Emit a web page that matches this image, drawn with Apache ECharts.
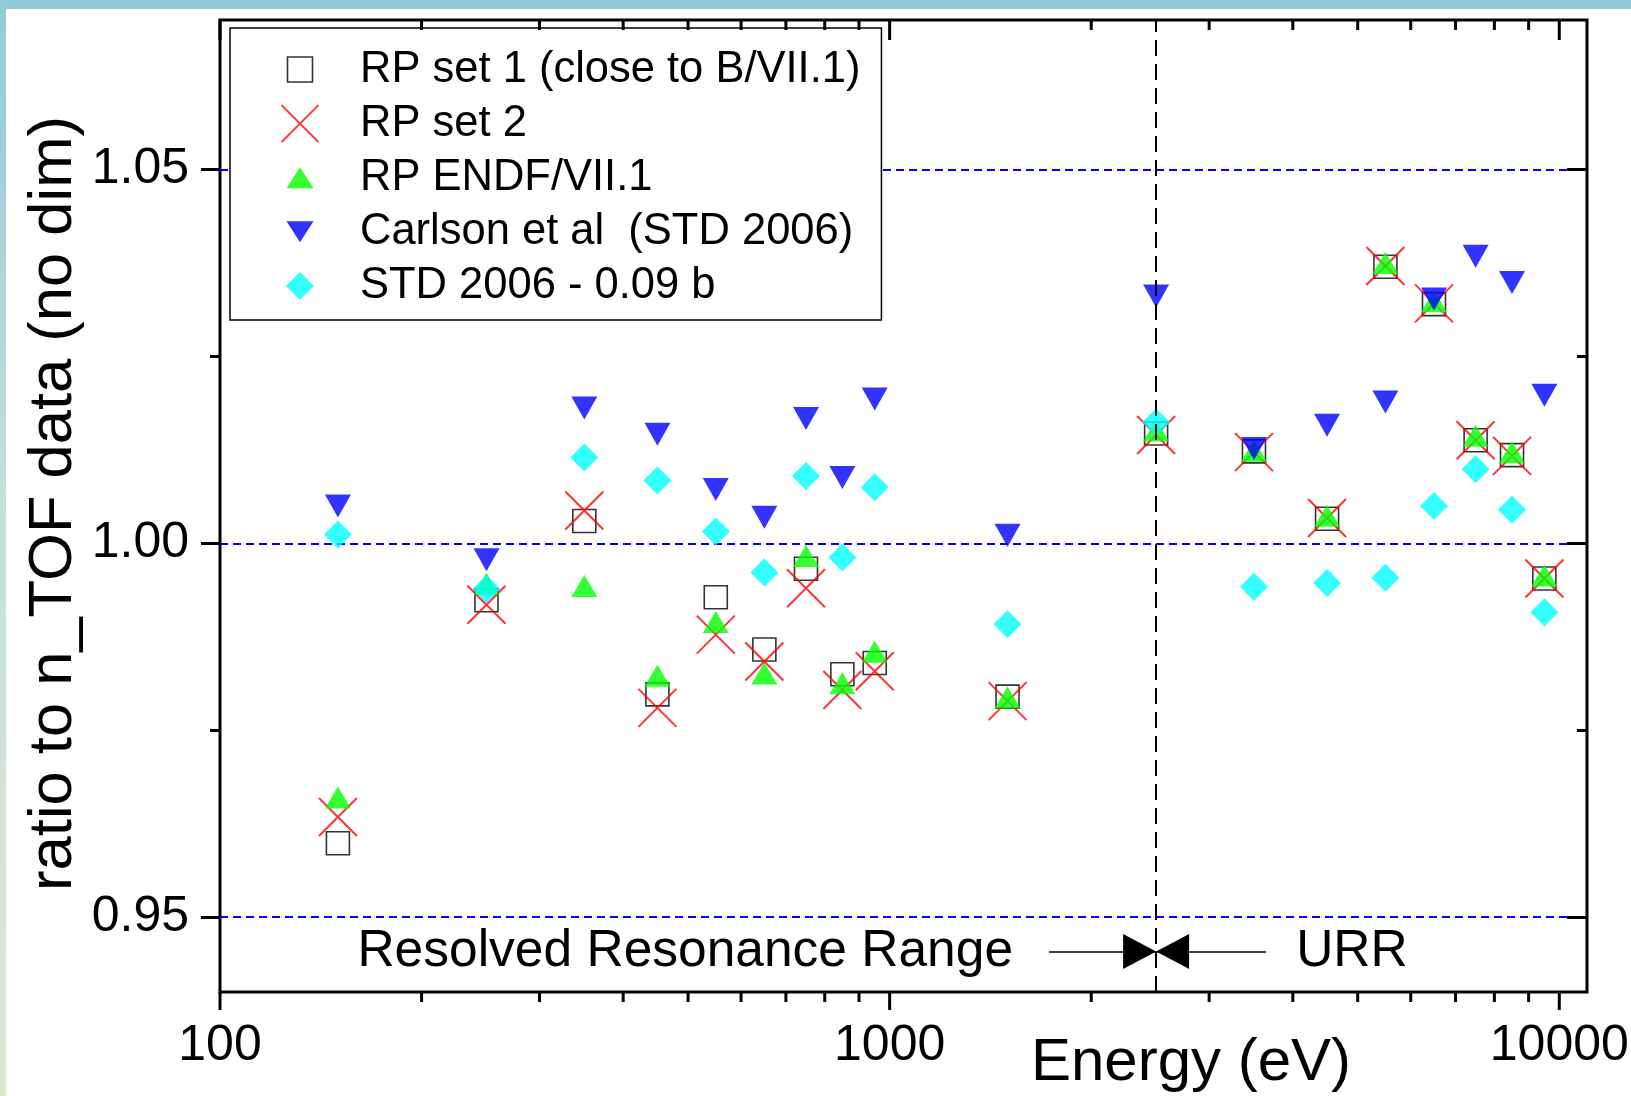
<!DOCTYPE html>
<html>
<head>
<meta charset="utf-8">
<script src="https://cdn.jsdelivr.net/npm/echarts@6/dist/echarts.min.js"></script>
<style>
html, body { margin: 0; padding: 0; background: #ffffff; }
#band { position: absolute; left: 0; top: 0; width: 1631px; height: 9px; background: #92c9d7; }
#strip { position: absolute; left: 0; top: 0; width: 6px; height: 1096px; background: linear-gradient(#92c9d7, #c4dfdc 45%, #dde9cf); }
#chart { position: absolute; left: 0; top: 0; width: 1631px; height: 1096px; }
</style>
</head>
<body>
<div id="band"></div>
<div id="strip"></div>
<div id="chart"></div>
<script>
// ---- data ----
const energy = [150, 250, 350, 450, 550, 650, 750, 850, 950, 1500, 2500, 3500, 4500, 5500, 6500, 7500, 8500, 9500];
const rpSet1  = [0.9599, 0.9924, 1.0030, 0.9798, 0.9928, 0.9858, 0.9966, 0.9825, 0.9840, 0.9795, 1.0147, 1.0123, 1.0033, 1.0370, 1.0320, 1.0138, 1.0118, 0.9953];
const rpSet2  = [0.9634, 0.9918, 1.0044, 0.9780, 0.9878, 0.9842, 0.9940, 0.9804, 0.9829, 0.9789, 1.0145, 1.0122, 1.0034, 1.0371, 1.0321, 1.0138, 1.0117, 0.9953];
const rpEndf  = [0.9660, 0.9946, 0.9943, 0.9823, 0.9895, 0.9826, 0.9983, 0.9813, 0.9855, 0.9794, 1.0151, 1.0124, 1.0037, 1.0375, 1.0324, 1.0144, 1.0122, 0.9957];
const carlson = [1.0050, 0.9978, 1.0181, 1.0146, 1.0072, 1.0035, 1.0167, 1.0088, 1.0193, 1.0011, 1.0331, 1.0127, 1.0158, 1.0189, 1.0327, 1.0384, 1.0349, 1.0198];
const std2006 = [1.0012, 0.9939, 1.0115, 1.0084, 1.0016, 0.9961, 1.0090, 0.9981, 1.0075, 0.9892, 1.0162, 0.9942, 0.9947, 0.9954, 1.0050, 1.0099, 1.0045, 0.9908];

const seriesNames = ['RP set 1 (close to B/VII.1)', 'RP set 2', 'RP ENDF/VII.1', 'Carlson et al  (STD 2006)', 'STD 2006 - 0.09 b'];

const xMajorTicks = [100, 1000, 10000];
const xMinorTicks = [200, 300, 400, 500, 600, 700, 800, 900, 2000, 3000, 4000, 5000, 6000, 7000, 8000, 9000];
const yMajorTicks = [0.95, 1.00, 1.05];
const yMinorTicks = [0.975, 1.025];

const X_MIN = 100, X_MAX = 11000, Y_MIN = 0.94, Y_MAX = 1.07;
const URR_BOUNDARY = 2500;
const ARROW_Y = 0.9454;
const RRR_ARROW_START = 1730;
const URR_ARROW_START = 3650;

// ---- styles ----
const FONT = '"Liberation Sans", Arial, Helvetica, sans-serif';
const X_PATH = 'path://M0,0L10,10M10,0L0,10';
const INV_TRI_PATH = 'path://M0,0L10,0L5,10Z';

const pairs = ys => energy.map((e, i) => [e, ys[i]]);
const tickData = xMajorTicks.map(v => [v, Y_MIN, 1]).concat(xMinorTicks.map(v => [v, Y_MIN, 0]));

function renderXTicks(params, api) {
  const v = api.value(0);
  const major = api.value(2) === 1;
  const b = api.coord([v, Y_MIN]);
  const t = api.coord([v, Y_MAX]);
  const lb = major ? 18 : 10;
  const lt = major ? 20 : 10;
  return {
    type: 'group',
    children: [
      { type: 'line', shape: { x1: b[0], y1: b[1], x2: b[0], y2: b[1] + lb }, style: { stroke: '#000', lineWidth: 3 } },
      { type: 'line', shape: { x1: t[0], y1: t[1], x2: t[0], y2: t[1] + lt }, style: { stroke: '#000', lineWidth: 3 } }
    ]
  };
}

function yAxisBase(position) {
  return {
    type: 'value', position: position, min: Y_MIN, max: Y_MAX,
    axisLine: { show: false },
    splitLine: { show: false },
    axisLabel: { show: false },
    nameMoveOverlap: false
  };
}

const arrowLabel = (text, dist) => ({
  show: true, position: 'start', formatter: text, distance: dist,
  fontSize: 51.5, color: '#000', fontFamily: FONT, padding: [5, 0, 0, 0]
});

const chart = echarts.init(document.getElementById('chart'), null, { renderer: 'canvas' });

const option = {
  animation: false,
  backgroundColor: 'transparent',
  textStyle: { fontFamily: FONT },
  grid: {
    left: 220, top: 20, width: 1367, height: 972,
    show: true, borderColor: '#000', borderWidth: 3, backgroundColor: 'transparent',
    outerBoundsMode: 'none', containLabel: false
  },
  legend: {
    orient: 'vertical', left: 230, top: 28,
    padding: [19.5, 21, 12, 50.5],
    itemWidth: 110, itemHeight: 37, itemGap: 10.1,
    backgroundColor: '#ffffff', borderColor: '#000', borderWidth: 1.5, borderRadius: 0,
    selectedMode: false,
    textStyle: { fontSize: 43.5, color: '#000', fontFamily: FONT },
    data: [
      { name: seriesNames[0], icon: 'path://M-2.4,-2.4M12.4,12.4M0,0L10,0L10,10L0,10Z',
        itemStyle: { color: 'rgba(0,0,0,0)', borderColor: '#000', borderWidth: 1.6 } },
      { name: seriesNames[1], icon: X_PATH,
        itemStyle: { color: 'rgba(0,0,0,0)', borderColor: '#ff0000', borderWidth: 2 } },
      { name: seriesNames[2], icon: 'path://M-1.85,-2.96M11.85,10.74M0,7.78L5,0L10,7.78Z',
        itemStyle: { color: '#00ff00', borderWidth: 0 } },
      { name: seriesNames[3], icon: 'path://M-1.85,-2.96M11.85,10.74M0,0L10,0L5,7.78Z',
        itemStyle: { color: '#0000ff', borderWidth: 0 } },
      { name: seriesNames[4], icon: 'path://M-1.6,-1.6M11.6,11.6M5,0L10,5L5,10L0,5Z',
        itemStyle: { color: '#00ffff', borderWidth: 0 } }
    ]
  },
  xAxis: [{
    type: 'log', logBase: 10, min: X_MIN, max: X_MAX, position: 'bottom',
    axisLine: { show: false },
    axisTick: { show: false },
    minorTick: { show: false },
    splitLine: { show: false },
    axisLabel: {
      fontSize: 50, color: '#000', fontFamily: FONT, margin: 29,
      formatter: function (v) {
        const hit = xMajorTicks.find(t => Math.abs(t - v) / t < 1e-6);
        return hit ? String(hit) : '';
      }
    },
    name: 'Energy (eV)', nameLocation: 'middle', nameGap: 41, nameMoveOverlap: false,
    nameTextStyle: { fontSize: 60, color: '#000', fontFamily: FONT, padding: [0, 0, 0, 575] }
  }],
  yAxis: [
    Object.assign(yAxisBase('left'), {
      axisTick: { show: true, inside: false, length: 19, customValues: yMajorTicks, lineStyle: { color: '#000', width: 3 } },
      axisLabel: {
        show: true, customValues: yMajorTicks, fontSize: 50, color: '#000', fontFamily: FONT, margin: 31,
        formatter: v => Number(v).toFixed(2)
      },
      splitLine: { show: true, lineStyle: { color: '#0000ff', width: 2, type: [8, 5] } },
      name: 'ratio to n_TOF data (no dim)', nameLocation: 'middle', nameGap: 135, nameRotate: 90,
      nameTextStyle: { fontSize: 61.5, color: '#000', fontFamily: FONT, padding: [0, 0, 0, 5] }
    }),
    Object.assign(yAxisBase('left'), {
      axisTick: { show: true, inside: false, length: 10, customValues: yMinorTicks, lineStyle: { color: '#000', width: 3 } }
    }),
    Object.assign(yAxisBase('right'), {
      axisTick: { show: true, inside: true, length: 20, customValues: yMajorTicks, lineStyle: { color: '#000', width: 3 } }
    }),
    Object.assign(yAxisBase('right'), {
      axisTick: { show: true, inside: true, length: 10, customValues: yMinorTicks, lineStyle: { color: '#000', width: 3 } }
    })
  ],
  series: [
    {
      name: seriesNames[0], type: 'scatter', data: pairs(rpSet1),
      symbol: 'rect', symbolSize: 23,
      itemStyle: { color: 'rgba(0,0,0,0)', borderColor: '#000', borderWidth: 1.6 },
      emphasis: { disabled: true }
    },
    {
      name: seriesNames[1], type: 'scatter', data: pairs(rpSet2),
      symbol: X_PATH, symbolSize: 38,
      itemStyle: { color: 'rgba(0,0,0,0)', borderColor: '#ff0000', borderWidth: 2 },
      emphasis: { disabled: true }
    },
    {
      name: seriesNames[2], type: 'scatter', data: pairs(rpEndf),
      symbol: 'triangle', symbolSize: [26, 22],
      itemStyle: { color: '#00ff00' },
      emphasis: { disabled: true }
    },
    {
      name: seriesNames[3], type: 'scatter', data: pairs(carlson),
      symbol: INV_TRI_PATH, symbolSize: [26, 23],
      itemStyle: { color: '#0000ff' },
      emphasis: { disabled: true }
    },
    {
      name: seriesNames[4], type: 'scatter', data: pairs(std2006),
      symbol: 'diamond', symbolSize: [28, 28],
      itemStyle: { color: '#00ffff' },
      emphasis: { disabled: true },
      markLine: {
        silent: true, animation: false,
        symbol: ['none', 'none'],
        emphasis: { disabled: true },
        label: { show: false },
        data: [
          { xAxis: URR_BOUNDARY, label: { show: false },
            lineStyle: { color: '#000', width: 2, type: [16, 8] } },
          [
            { coord: [RRR_ARROW_START, ARROW_Y], symbol: 'none',
              lineStyle: { color: '#000', width: 1.5, type: 'solid' },
              label: arrowLabel('Resolved Resonance Range', 36) },
            { coord: [URR_BOUNDARY, ARROW_Y], symbol: 'triangle', symbolSize: [35, 33], symbolOffset: [0, 16.5] }
          ],
          [
            { coord: [URR_ARROW_START, ARROW_Y], symbol: 'none',
              lineStyle: { color: '#000', width: 1.5, type: 'solid' },
              label: arrowLabel('URR', 30) },
            { coord: [URR_BOUNDARY, ARROW_Y], symbol: 'triangle', symbolSize: [35, 33], symbolOffset: [0, 16.5] }
          ]
        ]
      }
    },
    {
      type: 'custom', name: 'xticks', silent: true, clip: false,
      data: tickData, encode: { x: 0, y: 1 },
      renderItem: renderXTicks, z: 5
    }
  ]
};

chart.setOption(option);
</script>
</body>
</html>
